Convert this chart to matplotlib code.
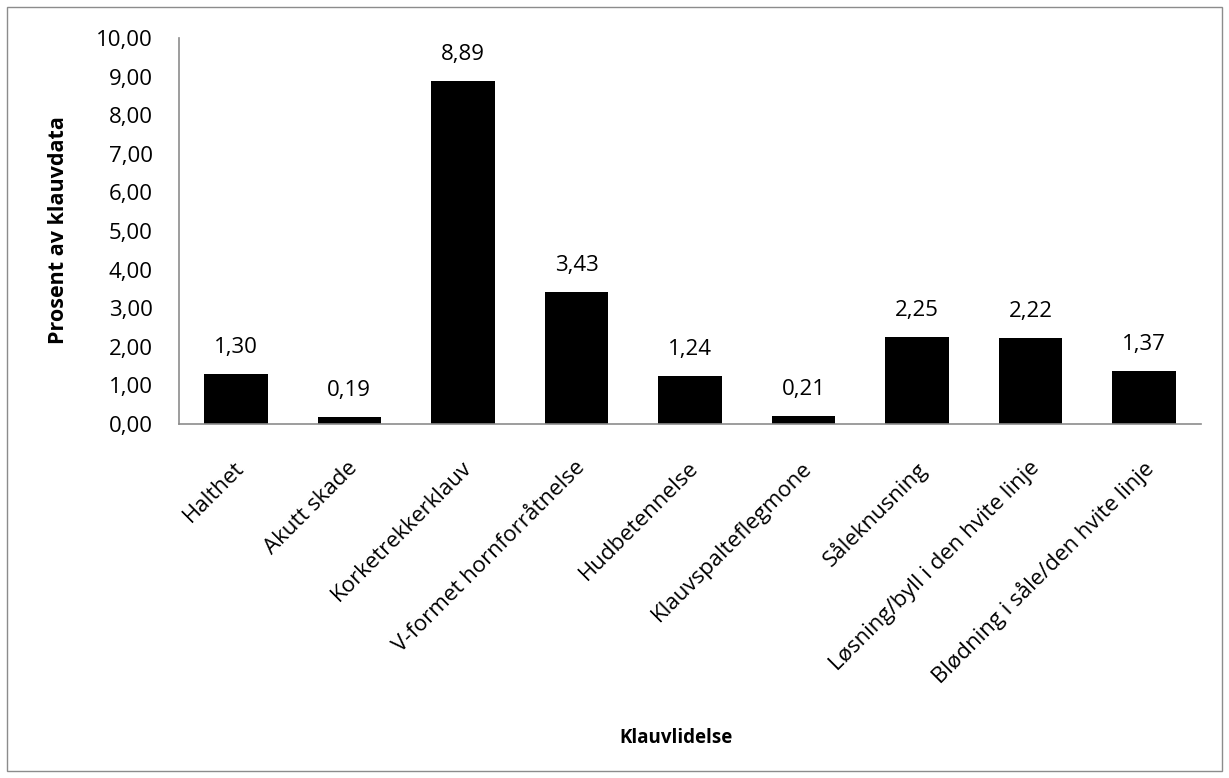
import matplotlib
matplotlib.use('Agg')
import matplotlib.pyplot as plt
from matplotlib.patches import Rectangle
from matplotlib.ticker import FuncFormatter

categories = ['Halthet', 'Akutt skade', 'Korketrekkerklauv', 'V-formet hornforråtnelse',
              'Hudbetennelse', 'Klauvspalteflegmone', 'Såleknusning',
              'Løsning/byll i den hvite linje', 'Blødning i såle/den hvite linje']
values = [1.30, 0.19, 8.89, 3.43, 1.24, 0.21, 2.25, 2.22, 1.37]
yticks = [0, 1, 2, 3, 4, 5, 6, 7, 8, 9, 10]

plt.rcParams['font.family'] = ['Open Sans', 'DejaVu Sans']

fig = plt.figure(figsize=(12.29, 7.78), dpi=100)
ax = fig.add_axes([179 / 1229, 1 - 424 / 778, (1201 - 179) / 1229, (424 - 38) / 778])

x = list(range(len(categories)))
bars = ax.bar(x, values, width=0.56, color='black')
for b, v in zip(bars, values):
    ax.annotate(f'{v:.2f}'.replace('.', ','), (b.get_x() + b.get_width() / 2, v),
                xytext=(0, 19), textcoords='offset points', ha='center', va='center',
                fontsize=16)

ax.set_xlim(-0.5, len(categories) - 0.5)
ax.set_ylim(0, 10)
ax.set_yticks(yticks)
ax.yaxis.set_major_formatter(FuncFormatter(lambda v, p: f'{v:.2f}'.replace('.', ',')))
ax.set_xticks(x)
ax.set_xticklabels(categories, rotation=45, ha='right', va='top', rotation_mode='anchor')
ax.tick_params(axis='both', length=0, labelsize=16)
ax.tick_params(axis='y', pad=19)
ax.tick_params(axis='x', pad=24)
for lbl in ax.get_xticklabels():
    lbl.set_transform(lbl.get_transform() + matplotlib.transforms.ScaledTranslation(-2 / 100, 0, fig.dpi_scale_trans))

for s in ['top', 'right']:
    ax.spines[s].set_visible(False)
for s in ['left', 'bottom']:
    ax.spines[s].set_color('#8c8c8c')
    ax.spines[s].set_linewidth(1.2)

fig.text(59 / 1229, 1 - 230 / 778, 'Prosent av klauvdata', rotation=90, ha='center', va='center',
         fontsize=15.5, fontweight='bold')
fig.text(676 / 1229, 1 - 738 / 778, 'Klauvlidelse', ha='center', va='center',
         fontsize=13.5, fontweight='bold')

fig.patches.append(Rectangle((7 / 1229, 7 / 778), 1 - 14 / 1229, 1 - 14 / 778,
                             transform=fig.transFigure, fill=False, edgecolor='#8c8c8c', linewidth=1))

fig.savefig('out.png', dpi=100)
